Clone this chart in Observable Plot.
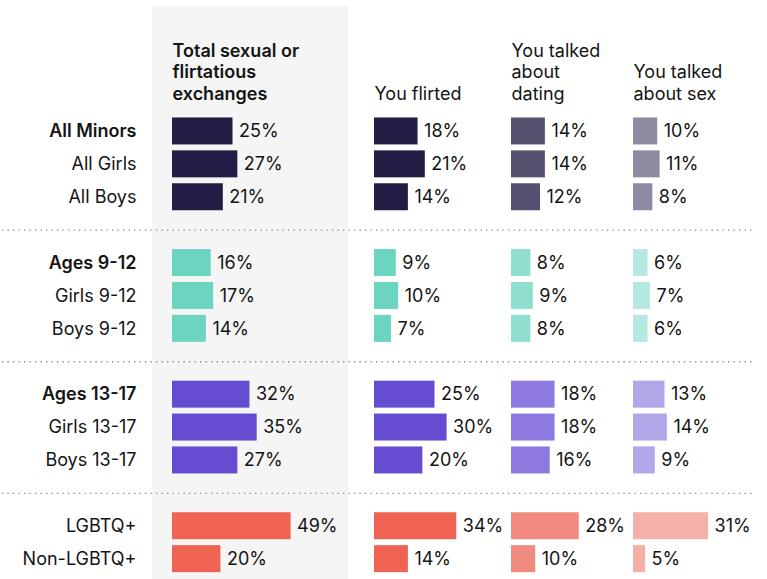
<!DOCTYPE html>
<html><head><meta charset="utf-8">
<script src="https://cdn.jsdelivr.net/npm/d3@7"></script>
<script src="https://cdn.jsdelivr.net/npm/@observablehq/plot@0.6"></script>
<style>
body{margin:0;background:#fff;font-family:Inter,"Noto Sans",sans-serif;}
#chart svg{display:block;}
</style></head><body><div id="chart"></div>
<script>
// ---- data ----
const rows = ["All Minors","All Girls","All Boys","Ages 9-12","Girls 9-12","Boys 9-12","Ages 13-17","Girls 13-17","Boys 13-17","LGBTQ+","Non-LGBTQ+"];
const rowGroup = [0,0,0,1,1,1,2,2,2,3,3];
const boldRows = ["All Minors","Ages 9-12","Ages 13-17"];
const measures = ["Total sexual or\nflirtatious\nexchanges","You flirted","You talked\nabout\ndating","You talked\nabout sex"];
const totalExchanges = [25,27,21,16,17,14,32,35,27,49,20];
const flirted = [18,21,14,9,10,7,25,30,20,34,14];
const talkedDating = [14,14,12,8,9,8,18,18,16,28,10];
const talkedSex = [10,11,8,6,7,6,13,14,9,31,5];
const series = [totalExchanges, flirted, talkedDating, talkedSex];

// ---- styles / layout ----
const groupColors = [
  ["#231c45","#231c45","#57506f","#8f8aa2"],
  ["#6bd5c0","#6bd5c0","#8fdfd0","#b3e9e0"],
  ["#654cd0","#654cd0","#8e79e0","#b2a5e8"],
  ["#ee6352","#ee6352","#f18a7f","#f5b1a8"]
];
const W = 767, H = 579, mL = 140, mT = 114.5, mB = 3.9, pxPerPct = 2.42;
const colStartPx = [172, 374, 511, 633];
const bgPx = [152, 348], bgTop = 6;
const toUnits = px => (px - mL) / pxPerPct;

const slotOf = i => i + rowGroup[i];
const nSlots = slotOf(rows.length - 1) + 1;
const sepSlots = d3.range(1, 4).map(g => slotOf(rowGroup.indexOf(g)) - 1);

const table = [];
series.forEach((vals, m) => vals.forEach((v, i) => table.push({
  slot: slotOf(i), offset: toUnits(colStartPx[m]), value: v,
  color: groupColors[rowGroup[i]][m]
})));
const rowData = rows.map((r, i) => ({label: r, slot: slotOf(i), bold: boldRows.includes(r)}));
const headData = measures.map((m, j) => ({label: m, offset: toUnits(colStartPx[j]), bold: j === 0}));

const fs = 18, ink = "#141414", boldW = 600;
const chart = Plot.plot({
  width: W, height: H,
  marginLeft: mL, marginRight: 0, marginTop: mT, marginBottom: mB,
  x: {domain: [0, (W - mL) / pxPerPct], axis: null},
  y: {domain: d3.range(nSlots), axis: null, paddingInner: 0.18, paddingOuter: 0.09, round: false},
  color: {type: "identity"},
  style: {fontFamily: "Inter, 'Noto Sans', sans-serif", fontSize: fs + "px"},
  marks: [
    Plot.rect([{x1: toUnits(bgPx[0]), x2: toUnits(bgPx[1])}], {x1: "x1", x2: "x2", fill: "#f5f5f5", insetTop: -(mT - bgTop), insetBottom: -mB}),
    Plot.ruleY(sepSlots, {stroke: "#8a8a8a", strokeWidth: 1.3, strokeDasharray: "1.3,4.2", insetLeft: -mL + 2, insetRight: 15}),
    Plot.barX(table, {x1: "offset", x2: d => d.offset + d.value, y: "slot", fill: "color"}),
    Plot.text(table, {x: d => d.offset + d.value, y: "slot", text: d => d.value + "%", textAnchor: "start", dx: 6, fill: ink, fontSize: fs}),
    Plot.text(rowData.filter(d => !d.bold), {y: "slot", text: "label", frameAnchor: "left", textAnchor: "end", dx: -4, fill: ink, fontSize: fs}),
    Plot.text(rowData.filter(d => d.bold), {y: "slot", text: "label", frameAnchor: "left", textAnchor: "end", dx: -4, fill: ink, fontSize: fs, fontWeight: boldW}),
    Plot.text(headData.filter(d => !d.bold), {x: "offset", text: "label", frameAnchor: "top", textAnchor: "start", lineAnchor: "bottom", lineHeight: 1.2, dy: -15, fill: ink, fontSize: fs}),
    Plot.text(headData.filter(d => d.bold), {x: "offset", text: "label", frameAnchor: "top", textAnchor: "start", lineAnchor: "bottom", lineHeight: 1.2, dy: -15, fill: ink, fontSize: fs, fontWeight: boldW})
  ]
});
document.getElementById("chart").append(chart);
</script></body></html>
